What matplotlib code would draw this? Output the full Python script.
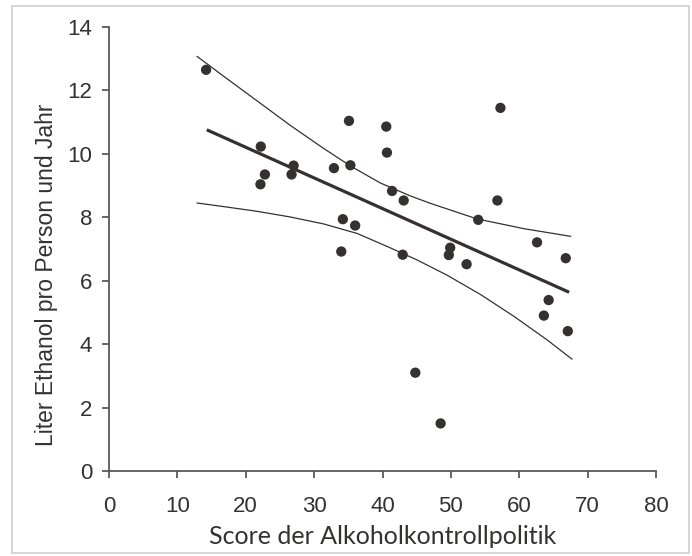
import numpy as np
import matplotlib
matplotlib.use("Agg")
import matplotlib.pyplot as plt
from matplotlib.patches import Rectangle

# Score der Alkoholkontrollpolitik vs. Liter Ethanol (one point per country)
score = [14.2, 22.2, 22.8, 22.15, 27.0, 26.7, 32.9, 35.1, 35.3, 40.55,
         40.65, 41.4, 43.1, 34.2, 36.0, 33.97, 42.95, 44.8, 48.5, 49.9,
         49.7, 52.3, 54.0, 57.25, 56.8, 62.6, 66.8, 64.3, 63.6, 67.1]
liter = [12.65, 10.23, 9.35, 9.04, 9.63, 9.35, 9.55, 11.04, 9.64, 10.86,
         10.04, 8.83, 8.53, 7.94, 7.74, 6.92, 6.82, 3.1, 1.5, 7.04,
         6.81, 6.52, 7.92, 11.45, 8.53, 7.21, 6.71, 5.39, 4.9, 4.41]

# confidence band
band_up_x = [12.9, 17.0, 21.6, 26.5, 31.4, 35.3, 39.7, 44.0, 47.0, 53.8, 60.7, 67.5]
band_up_y = [13.07, 12.41, 11.68, 10.90, 10.17, 9.62, 9.08, 8.68, 8.44, 7.95, 7.64, 7.40]
band_lo_x = [12.9, 17.0, 21.6, 26.5, 31.4, 36.3, 41.1, 45.0, 49.4, 54.3, 59.2, 64.1, 67.7]
band_lo_y = [8.45, 8.33, 8.19, 8.01, 7.79, 7.49, 7.04, 6.66, 6.18, 5.57, 4.88, 4.13, 3.53]

xticks = [0, 10, 20, 30, 40, 50, 60, 70, 80]
yticks = [0, 2, 4, 6, 8, 10, 12, 14]

dark = "#353131"
axcol = "#595959"

x = np.array(score)
y = np.array(liter)
b, a = np.polyfit(x, y, 1)

W, H = 692, 556
fig = plt.figure(figsize=(W / 100, H / 100), dpi=100)
ax = fig.add_axes([109 / W, (H - 471) / H, (656 - 109) / W, (471 - 27) / H])

# regression line
xl = np.array([14.3, 67.3])
ax.plot(xl, a + b * xl, color=dark, lw=2.3, solid_capstyle="butt", zorder=2)
# band
ax.plot(band_up_x, band_up_y, color=dark, lw=0.9, zorder=2)
ax.plot(band_lo_x, band_lo_y, color=dark, lw=0.9, zorder=2)

ax.scatter(x, y, s=55, color=dark, edgecolors="none", zorder=3)

ax.set_xlim(0, 80)
ax.set_ylim(0, 14)
ax.set_xticks(xticks)
ax.set_yticks(yticks)
for sp in ["top", "right"]:
    ax.spines[sp].set_visible(False)
for sp in ["left", "bottom"]:
    ax.spines[sp].set_color(axcol)
    ax.spines[sp].set_linewidth(1.3)
ax.tick_params(direction="out", length=5, width=1.3, color=axcol,
               labelsize=16, labelcolor=dark)
ax.tick_params(axis="x", pad=13)
ax.tick_params(axis="y", pad=7)
for lab in ax.get_xticklabels() + ax.get_yticklabels():
    lab.set_family("Liberation Sans")

ax.set_xlabel("Score der Alkoholkontrollpolitik", fontsize=18, color=dark,
              family="Lato", labelpad=6)
ax.set_ylabel("Liter Ethanol pro Person und Jahr", fontsize=16.5, color=dark,
              family="Liberation Sans")
ax.yaxis.label.set_va("center")
ax.yaxis.set_label_coords((47 - 109) / 547, (471 - 275) / 444)

# light frame around the figure
fig.patches.append(Rectangle((12 / W, 3 / H), 677 / W, 547 / H,
                             transform=fig.transFigure, fill=False,
                             edgecolor="#cfcfcf", lw=1.2))

fig.savefig("out.png", dpi=100)
